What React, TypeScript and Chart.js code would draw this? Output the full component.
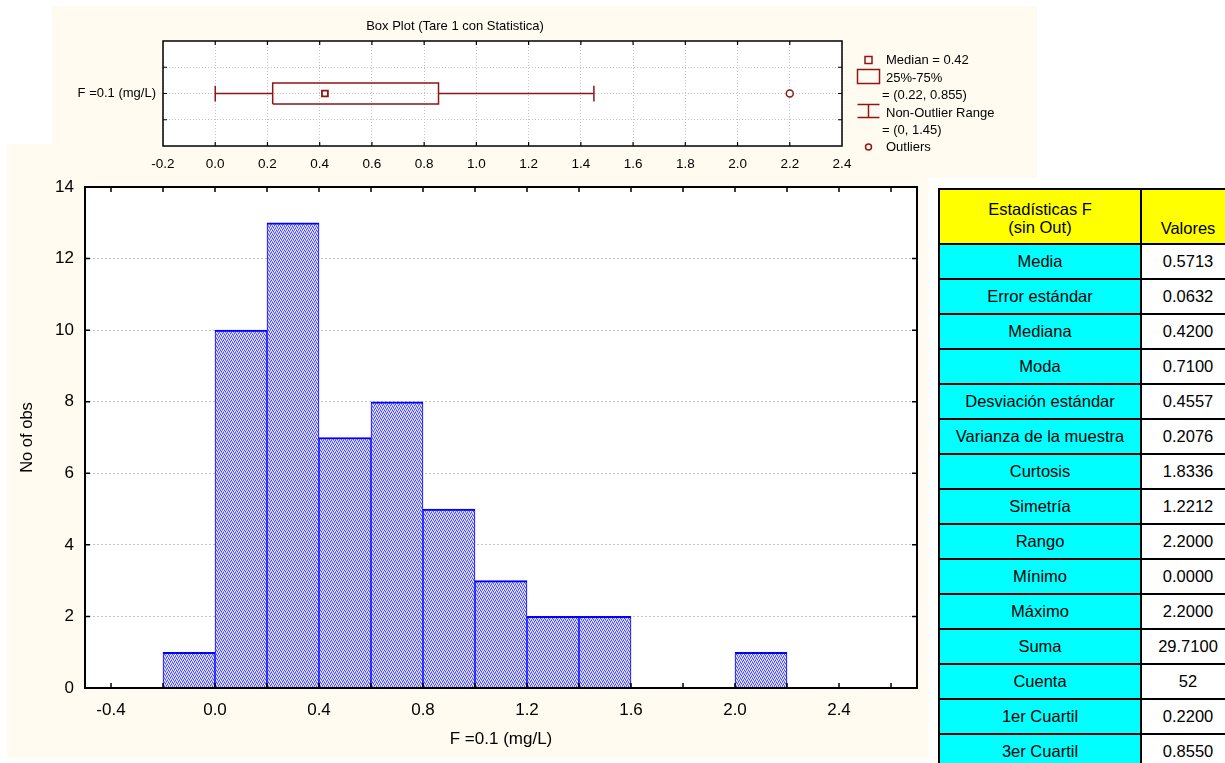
import React, { useEffect, useRef } from "react";
import { Chart, registerables } from "chart.js";

Chart.register(...registerables);

const FONT = "Arial, 'Liberation Sans', Helvetica, sans-serif";
const BEIGE = "#FFFBF0";
const GRID = "#C4C4C4";
const RED = "#8E1616";
const BLUE = "#0000FF";

// ---------- Histogram data ----------
const binLower = [-0.2, 0.0, 0.2, 0.4, 0.6, 0.8, 1.0, 1.2, 1.4, 1.6, 1.8, 2.0];
const binCounts = [1, 10, 13, 7, 8, 5, 3, 2, 2, 0, 0, 1];
const BIN_WIDTH = 0.2;
const histXTicks = [-0.4, -0.2, 0.0, 0.2, 0.4, 0.6, 0.8, 1.0, 1.2, 1.4, 1.6, 1.8, 2.0, 2.2, 2.4, 2.6];
const histXTickLabels = ["-0.4", "", "0.0", "", "0.4", "", "0.8", "", "1.2", "", "1.6", "", "2.0", "", "2.4", ""];
const histYTicks = [0, 2, 4, 6, 8, 10, 12, 14];
const histXTitle = "F =0.1 (mg/L)";
const histYTitle = "No of obs";

// ---------- Box plot data ----------
const boxTitle = "Box Plot (Tare 1 con Statistica)";
const boxCategory = "F =0.1 (mg/L)";
const boxMin = 0;
const boxQ1 = 0.22;
const boxMedian = 0.42;
const boxQ3 = 0.855;
const boxMax = 1.45;
const boxOutliers = [2.2];
const boxXTicks = [-0.2, 0.0, 0.2, 0.4, 0.6, 0.8, 1.0, 1.2, 1.4, 1.6, 1.8, 2.0, 2.2, 2.4];
const boxXTickLabels = ["-0.2", "0.0", "0.2", "0.4", "0.6", "0.8", "1.0", "1.2", "1.4", "1.6", "1.8", "2.0", "2.2", "2.4"];
const boxYTicks = [0, 1, 2, 3, 4];

// ---------- Statistics table ----------
const tableHeaderLabel = ["Estadísticas F", "(sin Out)"];
const tableHeaderValue = "Valores";
const statNames = [
  "Media", "Error estándar", "Mediana", "Moda", "Desviación estándar",
  "Varianza de la muestra", "Curtosis", "Simetría", "Rango", "Mínimo",
  "Máximo", "Suma", "Cuenta", "1er Cuartil", "3er Cuartil",
];
const statValues = [
  "0.5713", "0.0632", "0.4200", "0.7100", "0.4557",
  "0.2076", "1.8336", "1.2212", "2.2000", "0.0000",
  "2.2000", "29.7100", "52", "0.2200", "0.8550",
];

// style constants (not data)
const CAT_Y = 2;
const BOX_HALF = 0.4;
const CAP_HALF = 0.3;

function makeHatch(): CanvasPattern | string {
  const c = document.createElement("canvas");
  c.width = 4;
  c.height = 4;
  const g = c.getContext("2d");
  if (!g) return "#A0A0F6";
  const B = "#4A4AF2";
  const b = "#8C8CF6";
  const L = "#C4C4FA";
  const W = "#F4F4FF";
  const tile = [
    [B, W, b, L],
    [L, b, W, B],
    [W, B, L, b],
    [b, L, B, W],
  ];
  for (let y = 0; y < 4; y++) {
    for (let x = 0; x < 4; x++) {
      g.fillStyle = tile[y][x];
      g.fillRect(x, y, 1, 1);
    }
  }
  return g.createPattern(c, "repeat") || "#A0A0F6";
}

function framePlugin(id: string, cfg: { frameWidth: number; tickWidth: number; tickLen: number }) {
  return {
    id,
    beforeDraw(chart: any) {
      const { ctx, chartArea: a, width, height } = chart;
      ctx.save();
      ctx.fillStyle = BEIGE;
      ctx.fillRect(0, 0, width, height);
      ctx.fillStyle = "#FFFFFF";
      ctx.fillRect(a.left, a.top, a.right - a.left, a.bottom - a.top);
      ctx.restore();
    },
    afterDatasetsDraw(chart: any) {
      const { ctx, chartArea: a, scales } = chart;
      const xs = scales.x;
      const ys = scales.y;
      ctx.save();
      ctx.strokeStyle = "#000";
      ctx.lineWidth = cfg.tickWidth;
      ctx.beginPath();
      xs.ticks.forEach((t: any) => {
        const px = xs.getPixelForValue(t.value);
        if (px <= a.left + 1 || px >= a.right - 1) return;
        ctx.moveTo(px, a.bottom);
        ctx.lineTo(px, a.bottom - cfg.tickLen);
        ctx.moveTo(px, a.top);
        ctx.lineTo(px, a.top + cfg.tickLen);
      });
      ys.ticks.forEach((t: any) => {
        const py = ys.getPixelForValue(t.value);
        if (py <= a.top + 1 || py >= a.bottom - 1) return;
        ctx.moveTo(a.left, py);
        ctx.lineTo(a.left + cfg.tickLen, py);
        ctx.moveTo(a.right, py);
        ctx.lineTo(a.right - cfg.tickLen, py);
      });
      ctx.stroke();
      ctx.lineWidth = cfg.frameWidth;
      ctx.strokeRect(a.left, a.top, a.right - a.left, a.bottom - a.top);
      ctx.restore();
    },
  };
}

const boxDecorPlugin = {
  id: "boxDecor",
  afterDraw(chart: any) {
    const { ctx, chartArea: a } = chart;
    ctx.save();
    ctx.fillStyle = "#000";
    ctx.textBaseline = "middle";
    ctx.font = `13px ${FONT}`;
    ctx.textAlign = "center";
    ctx.fillText(boxTitle, a.left + 292, a.top - 15);

    // legend
    const mx = a.right + 26.5;
    const tx = a.right + 44;
    const tx2 = a.right + 40;
    const rows = [19, 37, 54, 72, 89, 106].map((d) => a.top + d);
    ctx.textAlign = "left";
    ctx.font = `13px ${FONT}`;
    ctx.fillText(`Median = ${boxMedian}`, tx, rows[0]);
    ctx.fillText("25%-75%", tx, rows[1]);
    ctx.fillText(`= (${boxQ1}, ${boxQ3})`, tx2, rows[2]);
    ctx.fillText("Non-Outlier Range", tx, rows[3]);
    ctx.fillText(`= (${boxMin}, ${boxMax})`, tx2, rows[4]);
    ctx.fillText("Outliers", tx, rows[5]);

    ctx.strokeStyle = RED;
    ctx.lineWidth = 1.5;
    ctx.strokeRect(mx - 3.5, rows[0] - 3.5, 7, 7);
    ctx.strokeRect(mx - 11, a.top + 28.5, 22, 14);
    ctx.beginPath();
    ctx.moveTo(mx - 11, a.top + 63.5);
    ctx.lineTo(mx + 11, a.top + 63.5);
    ctx.moveTo(mx, a.top + 63.5);
    ctx.lineTo(mx, a.top + 76.5);
    ctx.moveTo(mx - 11, a.top + 76.5);
    ctx.lineTo(mx + 11, a.top + 76.5);
    ctx.stroke();
    ctx.beginPath();
    ctx.arc(mx, rows[5], 3, 0, Math.PI * 2);
    ctx.stroke();
    ctx.restore();
  },
};

export default function App() {
  const histRef = useRef<HTMLCanvasElement | null>(null);
  const boxRef = useRef<HTMLCanvasElement | null>(null);

  useEffect(() => {
    if (!histRef.current || !boxRef.current) return;
    const hatch = makeHatch();

    const histData = binLower.map((lo, i) => ({ x: lo + BIN_WIDTH / 2, y: binCounts[i] }));

    const hist = new Chart(histRef.current, {
      type: "bar",
      data: {
        datasets: [
          {
            data: histData as any,
            backgroundColor: hatch as any,
            borderColor: BLUE,
            borderWidth: { top: 2, left: 1, right: 1, bottom: 0 } as any,
            borderSkipped: "start",
            barPercentage: 1,
            categoryPercentage: 1,
          },
        ],
      },
      options: {
        animation: false,
        responsive: false,
        events: [],
        layout: { padding: { top: 43, right: 11, left: 0, bottom: 0 } },
        plugins: { legend: { display: false }, tooltip: { enabled: false } },
        scales: {
          x: {
            type: "linear",
            min: -0.5,
            max: 2.7,
            offset: false,
            afterBuildTicks: (s: any) => {
              s.ticks = histXTicks.map((v) => ({ value: v }));
            },
            afterFit: (s: any) => {
              s.height = 70;
            },
            grid: { display: false, drawTicks: false },
            border: { display: false },
            ticks: {
              autoSkip: false,
              maxRotation: 0,
              padding: 12,
              color: "#000",
              font: { family: FONT, size: 17 },
              callback: (_v: any, i: number) => histXTickLabels[i],
            },
            title: {
              display: true,
              text: histXTitle,
              color: "#000",
              font: { family: FONT, size: 17 },
              padding: { top: 0, bottom: 8 },
            },
          },
          y: {
            type: "linear",
            min: 0,
            max: 14,
            afterBuildTicks: (s: any) => {
              s.ticks = histYTicks.map((v) => ({ value: v }));
            },
            afterFit: (s: any) => {
              s.width = 78;
            },
            grid: {
              drawTicks: false,
              color: (c: any) =>
                c.tick && (c.tick.value === 0 || c.tick.value === 14) ? "rgba(0,0,0,0)" : GRID,
            },
            border: { display: false, dash: [2, 2] },
            ticks: {
              padding: 11,
              color: "#000",
              font: { family: FONT, size: 17 },
            },
            title: {
              display: true,
              text: histYTitle,
              color: "#000",
              font: { family: FONT, size: 16.5 },
              padding: { top: 11, bottom: 0 },
            },
          },
        },
      },
      plugins: [framePlugin("histFrame", { frameWidth: 2, tickWidth: 1.5, tickLen: 5 })],
    });

    const boxRect = [
      { x: boxQ1, y: CAT_Y - BOX_HALF },
      { x: boxQ3, y: CAT_Y - BOX_HALF },
      { x: boxQ3, y: CAT_Y + BOX_HALF },
      { x: boxQ1, y: CAT_Y + BOX_HALF },
      { x: boxQ1, y: CAT_Y - BOX_HALF },
    ];
    const lineDs = (data: any[]) => ({
      data,
      showLine: true,
      borderColor: RED,
      borderWidth: 1.5,
      pointRadius: 0,
      fill: false,
    });

    const box = new Chart(boxRef.current, {
      type: "scatter",
      data: {
        datasets: [
          lineDs(boxRect),
          lineDs([{ x: boxMin, y: CAT_Y }, { x: boxQ1, y: CAT_Y }]),
          lineDs([{ x: boxQ3, y: CAT_Y }, { x: boxMax, y: CAT_Y }]),
          lineDs([{ x: boxMin, y: CAT_Y - CAP_HALF }, { x: boxMin, y: CAT_Y + CAP_HALF }]),
          lineDs([{ x: boxMax, y: CAT_Y - CAP_HALF }, { x: boxMax, y: CAT_Y + CAP_HALF }]),
          {
            data: [{ x: boxMedian, y: CAT_Y }],
            pointStyle: "rect",
            pointRadius: 4.2,
            pointBorderWidth: 1.8,
            pointBorderColor: RED,
            pointBackgroundColor: "#FFFFFF",
          } as any,
          {
            data: boxOutliers.map((v) => ({ x: v, y: CAT_Y })),
            pointStyle: "circle",
            pointRadius: 3.5,
            pointBorderWidth: 1.5,
            pointBorderColor: RED,
            pointBackgroundColor: "#FFFFFF",
          } as any,
        ],
      },
      options: {
        animation: false,
        responsive: false,
        events: [],
        layout: { padding: { top: 35, right: 195, left: 0, bottom: 0 } },
        plugins: { legend: { display: false }, tooltip: { enabled: false } },
        scales: {
          x: {
            type: "linear",
            min: -0.2,
            max: 2.4,
            afterBuildTicks: (s: any) => {
              s.ticks = boxXTicks.map((v) => ({ value: v }));
            },
            afterFit: (s: any) => {
              s.height = 32;
            },
            grid: { color: GRID, drawTicks: false },
            border: { display: false, dash: [1, 2] },
            ticks: {
              autoSkip: false,
              maxRotation: 0,
              padding: 10,
              color: "#000",
              font: { family: FONT, size: 13.5 },
              callback: (_v: any, i: number) => boxXTickLabels[i],
            },
          },
          y: {
            type: "linear",
            min: 0,
            max: 4,
            afterBuildTicks: (s: any) => {
              s.ticks = boxYTicks.map((v) => ({ value: v }));
            },
            afterFit: (s: any) => {
              s.width = 111;
            },
            grid: {
              drawTicks: false,
              color: (c: any) =>
                c.tick && (c.tick.value === 0 || c.tick.value === 4) ? "rgba(0,0,0,0)" : GRID,
            },
            border: { display: false, dash: [1, 2] },
            ticks: {
              padding: 7,
              color: "#000",
              font: { family: FONT, size: 13 },
              callback: (v: any) => (v === CAT_Y ? boxCategory : ""),
            },
          },
        },
      },
      plugins: [framePlugin("boxFrame", { frameWidth: 1.5, tickWidth: 1.2, tickLen: 4 }), boxDecorPlugin],
    });

    return () => {
      hist.destroy();
      box.destroy();
    };
  }, []);

  const cellBase: React.CSSProperties = {
    display: "flex",
    alignItems: "center",
    justifyContent: "center",
    fontSize: 16.5,
    color: "#000",
    whiteSpace: "nowrap",
  };

  return (
    <div
      style={{
        position: "absolute",
        left: 0,
        top: 0,
        width: 1225,
        height: 763,
        overflow: "hidden",
        background: "#FFFFFF",
        fontFamily: FONT,
      }}
    >
      <canvas
        ref={histRef}
        width={921}
        height={614}
        style={{ position: "absolute", left: 7, top: 144, width: 921, height: 614 }}
      />
      <canvas
        ref={boxRef}
        width={985}
        height={172}
        style={{ position: "absolute", left: 52, top: 6, width: 985, height: 172 }}
      />
      <div
        style={{
          position: "absolute",
          left: 938,
          top: 188,
          display: "grid",
          gridTemplateColumns: "200px 92px",
          gridTemplateRows: `53px repeat(${statNames.length}, 33px)`,
          gap: 2,
          padding: 2,
          background: "#000",
        }}
      >
        <div
          style={{
            ...cellBase,
            background: "#FFFF00",
            flexDirection: "column",
            justifyContent: "flex-end",
            lineHeight: "18px",
            paddingBottom: 7,
          }}
        >
          {tableHeaderLabel.map((t) => (
            <div key={t}>{t}</div>
          ))}
        </div>
        <div
          style={{
            ...cellBase,
            background: "#FFFF00",
            alignItems: "flex-end",
            lineHeight: "18px",
            paddingBottom: 6,
          }}
        >
          {tableHeaderValue}
        </div>
        {statNames.map((name, i) => (
          <React.Fragment key={name}>
            <div style={{ ...cellBase, background: "#00FFFF" }}>{name}</div>
            <div style={{ ...cellBase, background: "#FFFFFF" }}>{statValues[i]}</div>
          </React.Fragment>
        ))}
      </div>
    </div>
  );
}
